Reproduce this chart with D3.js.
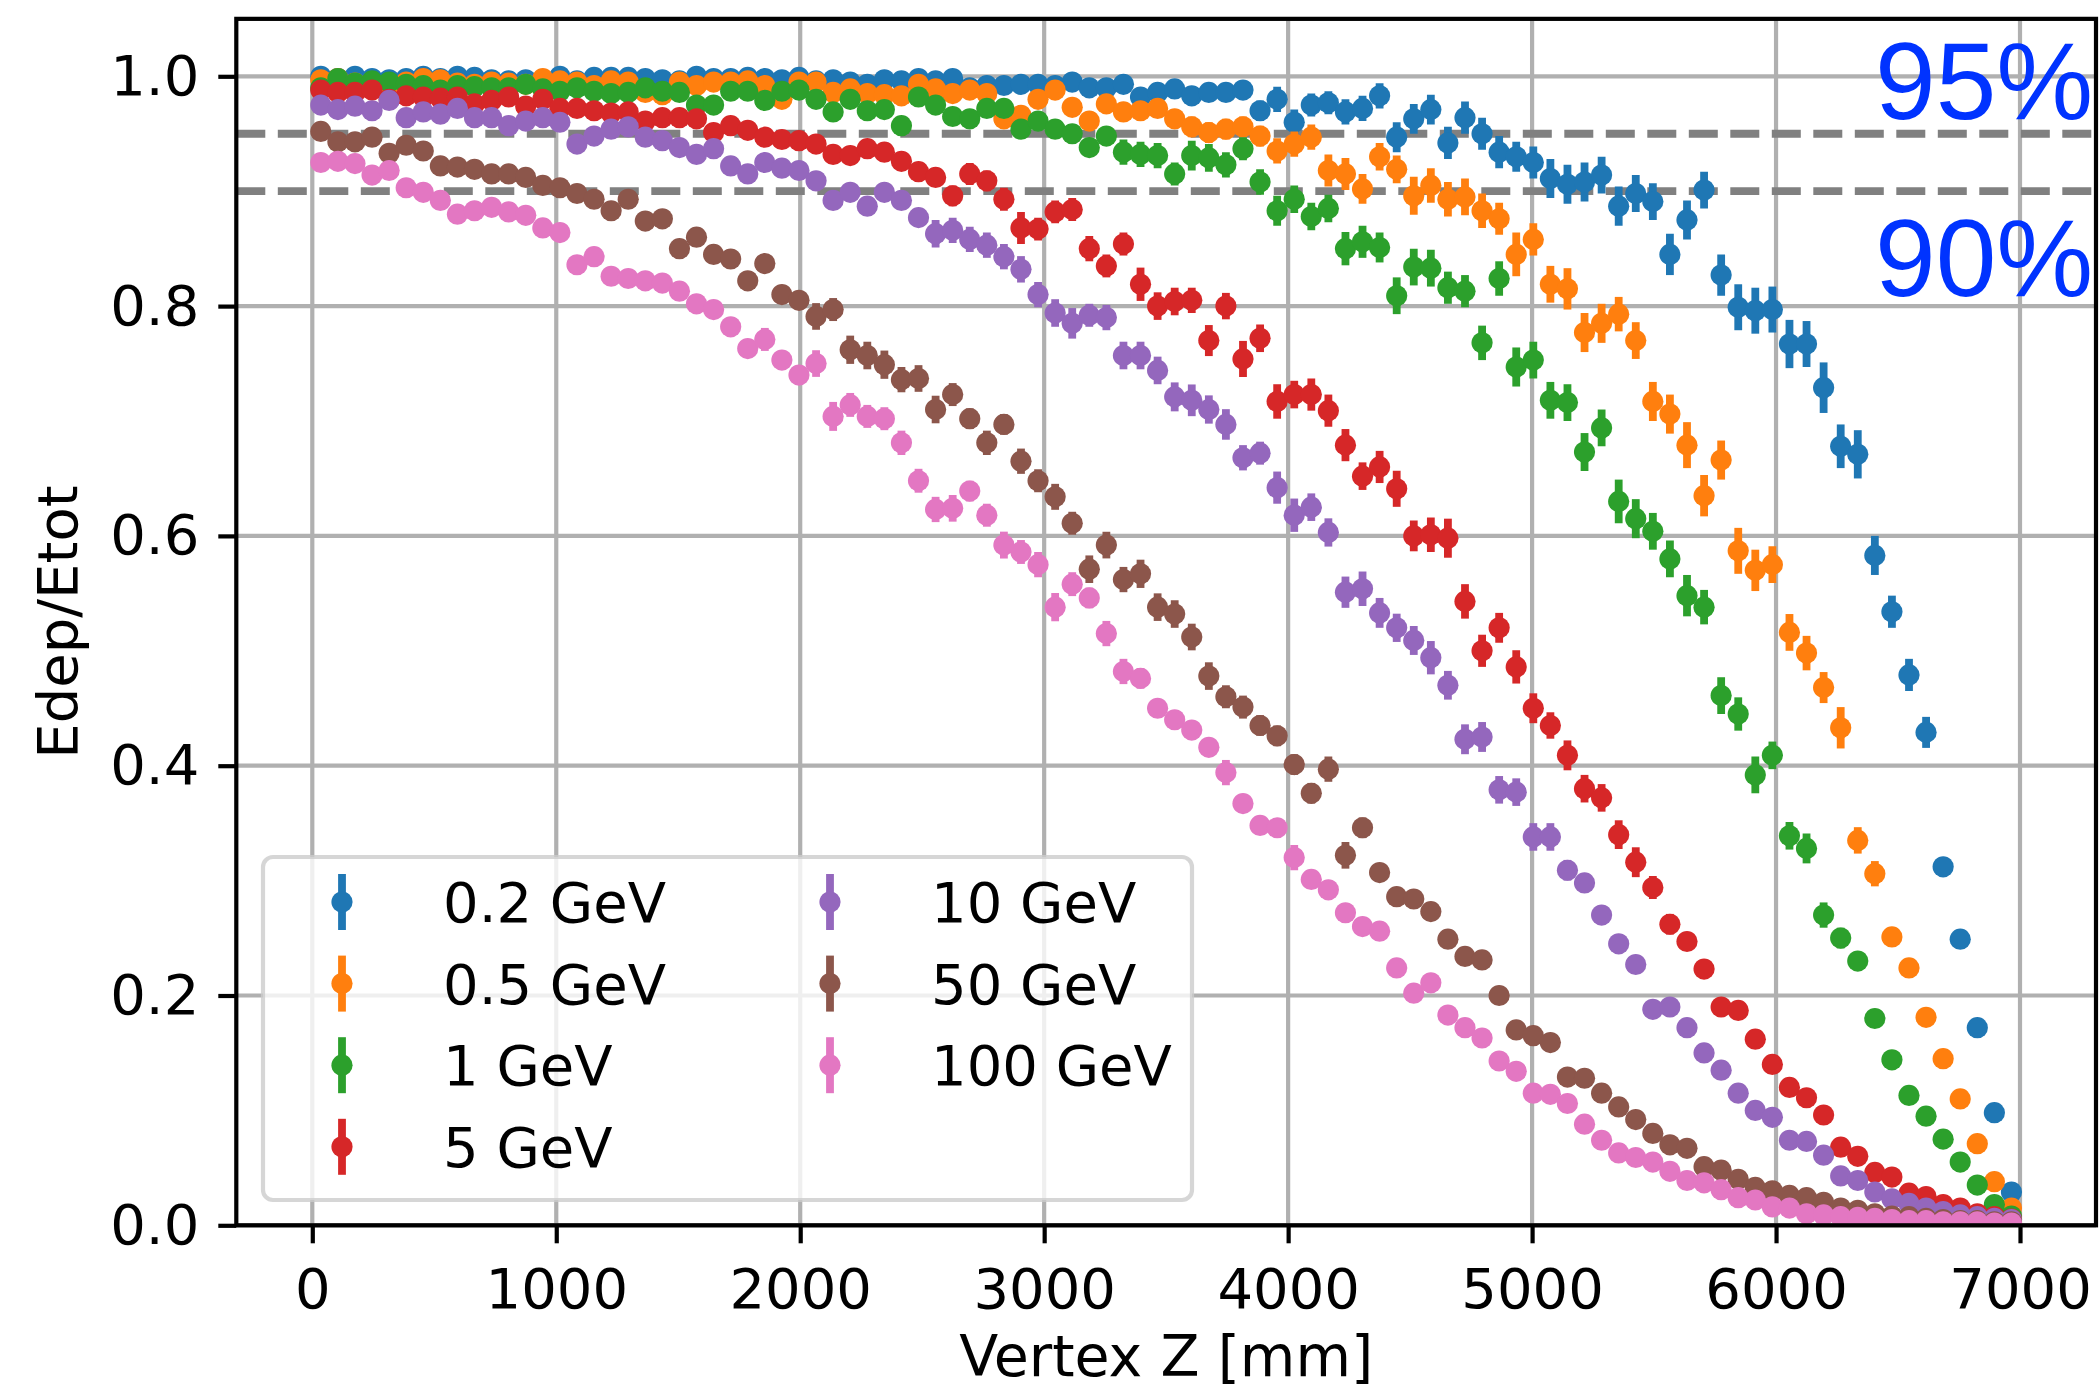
<!DOCTYPE html>
<html>
<head>
<meta charset="utf-8">
<script src="https://cdn.jsdelivr.net/npm/d3@7"></script>
<style>
  body { margin: 0; background: #fff; }
  svg text { font-family: "DejaVu Sans", sans-serif; }
</style>
</head>
<body>
<script>
// bin centres along Vertex Z [mm]
var vertexZ = [35,105,175,245,315,385,455,525,595,665,735,805,875,945,1015,1085,1155,1225,1295,1365,
  1435,1505,1575,1645,1715,1785,1855,1925,1995,2065,2135,2205,2275,2345,2415,2485,2555,2625,2695,2765,
  2835,2905,2975,3045,3115,3185,3255,3325,3395,3465,3535,3605,3675,3745,3815,3885,3955,4025,4095,4165,
  4235,4305,4375,4445,4515,4585,4655,4725,4795,4865,4935,5005,5075,5145,5215,5285,5355,5425,5495,5565,
  5635,5705,5775,5845,5915,5985,6055,6125,6195,6265,6335,6405,6475,6545,6615,6685,6755,6825,6895,6965];

var labels = ["0.2 GeV","0.5 GeV","1 GeV","5 GeV","10 GeV","50 GeV","100 GeV"];
var colors = ["#1f77b4","#ff7f0e","#2ca02c","#d62728","#9467bd","#8c564b","#e377c2"];

// Edep/Etot per energy
var e02 = [1.000,0.998,1.000,0.998,0.997,0.998,1.000,0.998,1.000,0.999,
  0.997,0.996,0.997,0.996,1.000,0.996,0.999,0.999,0.999,0.998,
  0.997,0.996,1.000,0.998,0.998,0.999,0.998,0.997,0.999,0.996,
  0.997,0.995,0.993,0.997,0.996,0.998,0.996,0.998,0.990,0.992,
  0.992,0.993,0.993,0.992,0.995,0.990,0.990,0.993,0.982,0.986,
  0.989,0.983,0.986,0.986,0.988,0.970,0.980,0.960,0.975,0.977,
  0.969,0.972,0.983,0.947,0.963,0.971,0.942,0.964,0.950,0.934,
  0.930,0.925,0.911,0.906,0.908,0.914,0.887,0.898,0.891,0.845,
  0.875,0.901,0.827,0.799,0.796,0.797,0.767,0.767,0.729,0.678,
  0.671,0.583,0.534,0.479,0.429,0.312,0.249,0.172,0.098,0.029];
var e05 = [0.997,0.998,0.994,0.995,0.993,0.995,0.998,0.997,0.994,0.993,
  0.995,0.994,0.993,0.998,0.996,0.995,0.992,0.996,0.995,0.986,
  0.984,0.995,0.992,0.995,0.995,0.996,0.992,0.980,0.995,0.995,
  0.986,0.989,0.985,0.984,0.983,0.993,0.989,0.985,0.988,0.985,
  0.963,0.966,0.980,0.988,0.973,0.961,0.976,0.969,0.970,0.972,
  0.963,0.956,0.951,0.954,0.956,0.948,0.935,0.941,0.947,0.918,
  0.915,0.902,0.930,0.919,0.896,0.905,0.893,0.895,0.883,0.876,
  0.845,0.858,0.819,0.815,0.777,0.785,0.793,0.770,0.717,0.706,
  0.679,0.635,0.666,0.587,0.570,0.575,0.516,0.498,0.468,0.433,
  0.335,0.306,0.251,0.224,0.181,0.145,0.110,0.071,0.038,0.015];
var e1 = [0.990,0.998,0.994,0.996,0.995,0.993,0.992,0.988,0.992,0.991,
  0.990,0.990,0.993,0.989,0.987,0.990,0.987,0.985,0.986,0.990,
  0.987,0.986,0.975,0.975,0.987,0.987,0.979,0.987,0.988,0.980,
  0.969,0.980,0.970,0.971,0.957,0.982,0.975,0.965,0.963,0.972,
  0.972,0.954,0.961,0.954,0.950,0.938,0.948,0.934,0.932,0.931,
  0.915,0.931,0.929,0.923,0.937,0.908,0.883,0.893,0.878,0.885,
  0.850,0.856,0.851,0.809,0.834,0.833,0.816,0.813,0.768,0.824,
  0.747,0.753,0.718,0.716,0.673,0.694,0.630,0.615,0.604,0.580,
  0.548,0.538,0.461,0.445,0.392,0.409,0.339,0.328,0.270,0.250,
  0.230,0.180,0.144,0.113,0.095,0.075,0.055,0.035,0.018,0.008];
var e5 = [0.988,0.986,0.986,0.988,0.980,0.983,0.982,0.981,0.982,0.976,
  0.979,0.982,0.974,0.980,0.972,0.972,0.970,0.968,0.969,0.961,
  0.964,0.964,0.963,0.951,0.957,0.953,0.947,0.945,0.944,0.941,
  0.932,0.931,0.937,0.934,0.926,0.917,0.912,0.896,0.915,0.909,
  0.893,0.868,0.867,0.882,0.884,0.850,0.835,0.854,0.819,0.800,
  0.804,0.805,0.770,0.800,0.754,0.772,0.717,0.723,0.723,0.709,
  0.679,0.652,0.660,0.641,0.600,0.601,0.598,0.543,0.500,0.520,
  0.486,0.450,0.435,0.409,0.380,0.372,0.340,0.316,0.294,0.262,
  0.247,0.223,0.190,0.187,0.162,0.140,0.120,0.111,0.096,0.068,
  0.060,0.046,0.042,0.028,0.025,0.018,0.015,0.010,0.0075,0.0055];
var e10 = [0.975,0.971,0.974,0.970,0.979,0.964,0.969,0.967,0.972,0.964,
  0.964,0.957,0.961,0.964,0.960,0.941,0.948,0.954,0.956,0.947,
  0.944,0.938,0.932,0.937,0.922,0.915,0.925,0.920,0.918,0.909,
  0.892,0.899,0.887,0.899,0.892,0.877,0.863,0.866,0.858,0.853,
  0.843,0.832,0.810,0.794,0.785,0.792,0.790,0.757,0.757,0.744,
  0.721,0.718,0.710,0.697,0.668,0.672,0.642,0.618,0.625,0.603,
  0.551,0.554,0.533,0.520,0.509,0.494,0.470,0.423,0.425,0.379,
  0.377,0.338,0.338,0.309,0.298,0.270,0.245,0.227,0.188,0.190,
  0.172,0.150,0.135,0.115,0.100,0.094,0.074,0.073,0.061,0.043,
  0.039,0.029,0.023,0.019,0.015,0.012,0.009,0.0075,0.006,0.005];
var e50 = [0.952,0.943,0.943,0.947,0.933,0.940,0.935,0.922,0.921,0.919,
  0.915,0.915,0.912,0.905,0.903,0.898,0.893,0.883,0.893,0.874,
  0.876,0.850,0.860,0.845,0.841,0.822,0.837,0.810,0.805,0.791,
  0.797,0.762,0.757,0.749,0.736,0.737,0.710,0.723,0.702,0.681,
  0.697,0.665,0.648,0.634,0.611,0.571,0.592,0.562,0.567,0.538,
  0.532,0.512,0.478,0.460,0.451,0.435,0.426,0.401,0.376,0.397,
  0.322,0.346,0.307,0.286,0.284,0.273,0.249,0.234,0.231,0.200,
  0.170,0.165,0.159,0.129,0.128,0.115,0.103,0.092,0.080,0.070,
  0.067,0.051,0.048,0.040,0.033,0.030,0.026,0.024,0.020,0.015,
  0.013,0.010,0.008,0.0075,0.006,0.005,0.004,0.004,0.003,0.003];
var e100 = [0.925,0.926,0.924,0.914,0.918,0.903,0.899,0.892,0.880,0.883,
  0.886,0.882,0.879,0.868,0.864,0.836,0.843,0.826,0.824,0.822,
  0.820,0.813,0.802,0.797,0.782,0.763,0.771,0.753,0.740,0.750,
  0.704,0.714,0.704,0.702,0.681,0.648,0.623,0.624,0.639,0.618,
  0.592,0.586,0.575,0.538,0.558,0.546,0.515,0.482,0.476,0.450,
  0.440,0.431,0.416,0.394,0.367,0.348,0.346,0.320,0.301,0.292,
  0.272,0.260,0.256,0.224,0.202,0.211,0.183,0.172,0.163,0.143,
  0.134,0.115,0.114,0.106,0.088,0.074,0.063,0.059,0.055,0.047,
  0.039,0.037,0.031,0.024,0.022,0.016,0.015,0.010,0.009,0.0075,
  0.007,0.006,0.005,0.004,0.004,0.003,0.003,0.003,0.002,0.002];

// error (half length) per energy
var err02 = [.004,.004,.004,.004,.004,.004,.004,.004,.004,.004,
  .004,.004,.004,.004,.004,.004,.004,.004,.004,.004,
  .004,.004,.004,.004,.004,.004,.004,.004,.004,.004,
  .005,.005,.005,.005,.005,.005,.005,.005,.005,.005,
  .005,.007,.007,.007,.007,.007,.007,.007,.007,.007,
  .007,.007,.007,.007,.007,.009,.011,.011,.010,.010,
  .011,.011,.011,.013,.013,.013,.014,.014,.014,.014,
  .013,.014,.017,.017,.017,.016,.017,.016,.016,.018,
  .017,.016,.018,.020,.020,.020,.021,.020,.022,.019,
  .021,.017,.014,.014,.0135,.008,.007,.006,.005,.003];
var err05 = [.005,.005,.005,.005,.005,.005,.005,.005,.005,.005,
  .005,.005,.005,.005,.005,.005,.005,.005,.005,.005,
  .005,.005,.005,.005,.005,.005,.005,.005,.005,.005,
  .006,.006,.006,.006,.006,.006,.006,.006,.006,.006,
  .007,.007,.007,.007,.007,.007,.007,.007,.007,.007,
  .007,.009,.009,.009,.009,.009,.011,.011,.011,.014,
  .014,.013,.012,.012,.0165,.015,.015,.016,.015,.014,
  .019,.014,.016,.018,.017,.017,.015,.016,.017,.017,
  .020,.018,.017,.020,.018,.016,.016,.015,.0135,.018,
  .0115,.011,.008,.007,.006,.005,.004,.003,.002,.002];
var err1 = [.005,.005,.005,.005,.005,.005,.005,.005,.005,.005,
  .005,.005,.005,.005,.005,.005,.005,.005,.005,.005,
  .005,.005,.005,.005,.005,.005,.005,.005,.005,.005,
  .005,.005,.005,.005,.005,.005,.005,.005,.005,.005,
  .008,.008,.008,.008,.008,.008,.008,.011,.011,.011,
  .010,.013,.012,.011,.010,.011,.013,.012,.012,.012,
  .0145,.014,.013,.016,.016,.016,.014,.014,.015,.015,
  .017,.016,.016,.016,.0165,.016,.019,.017,.016,.016,
  .018,.015,.016,.0145,.016,.012,.012,.013,.011,.009,
  .008,.007,.006,.005,.005,.004,.003,.003,.002,.002];
var err5 = [.005,.005,.005,.005,.005,.005,.005,.005,.005,.005,
  .005,.005,.005,.005,.005,.005,.005,.005,.005,.005,
  .005,.005,.005,.005,.005,.005,.005,.005,.005,.005,
  .007,.007,.007,.007,.007,.007,.007,.009,.0095,.009,
  .010,.014,.010,.010,.010,.011,.010,.010,.0145,.012,
  .012,.011,.0135,.0115,.0157,.012,.015,.012,.014,.014,
  .014,.012,.014,.0157,.0134,.015,.017,.015,.014,.013,
  .0145,.013,.0115,.013,.012,.012,.0125,.013,.010,.009,
  .008,.008,.007,.007,.006,.006,.005,.005,.004,.003,
  .003,.003,.003,.003,.003,.002,.002,.002,.002,.002];
var err10 = [.006,.006,.006,.006,.006,.006,.006,.006,.006,.006,
  .006,.006,.006,.006,.006,.006,.006,.006,.006,.006,
  .006,.006,.006,.006,.006,.006,.006,.006,.006,.006,
  .008,.008,.008,.008,.008,.008,.012,.011,.011,.011,
  .011,.0115,.011,.012,.0133,.010,.011,.012,.012,.012,
  .0126,.0138,.0123,.0133,.011,.010,.014,.0145,.012,.0123,
  .0136,.015,.013,.0123,.0126,.0145,.0125,.013,.013,.012,
  .012,.012,.012,.009,.008,.008,.007,.007,.006,.006,
  .005,.005,.005,.004,.004,.004,.003,.003,.003,.003,
  .003,.002,.002,.002,.002,.002,.002,.002,.002,.002];
var err50 = [.007,.007,.007,.007,.007,.007,.007,.007,.007,.007,
  .007,.007,.007,.007,.007,.007,.007,.007,.007,.007,
  .007,.008,.008,.008,.008,.008,.008,.008,.008,.0116,
  .010,.0123,.012,.0123,.011,.0116,.012,.010,.009,.0106,
  .009,.011,.010,.0113,.010,.012,.0116,.011,.0123,.012,
  .012,.0116,.012,.010,.010,.009,.009,.009,.009,.011,
  .0116,.009,.008,.007,.007,.007,.007,.007,.007,.007,
  .007,.005,.005,.005,.005,.005,.005,.005,.005,.005,
  .005,.003,.003,.003,.003,.003,.003,.003,.003,.003,
  .002,.002,.002,.002,.002,.002,.002,.002,.002,.002];
var err100 = [.007,.007,.007,.007,.007,.007,.007,.007,.007,.007,
  .007,.007,.007,.007,.007,.007,.007,.007,.007,.007,
  .007,.007,.007,.007,.007,.008,.010,.008,.008,.0116,
  .0126,.0104,.010,.010,.0106,.0104,.011,.0116,.009,.010,
  .0117,.0104,.011,.0123,.0104,.009,.011,.011,.009,.008,
  .008,.008,.008,.011,.008,.008,.008,.011,.007,.007,
  .007,.007,.007,.007,.007,.007,.005,.005,.005,.005,
  .005,.005,.005,.005,.005,.005,.003,.003,.003,.003,
  .003,.003,.003,.003,.003,.003,.003,.003,.003,.003,
  .002,.002,.002,.002,.002,.002,.002,.002,.002,.002];

var xTicks = [0,1000,2000,3000,4000,5000,6000,7000];
var yTicks = [0.0,0.2,0.4,0.6,0.8,1.0];
var refLines = [0.95, 0.90];
var refTexts = ["95%", "90%"];

var allVals = [e02, e05, e1, e5, e10, e50, e100];
var allErrs = [err02, err05, err1, err5, err10, err50, err100];

// layout
var W = 2100, H = 1392;
var L = 236.3, R = 2096, T = 18.85, B = 1225.3;
var fs = 56;

var x = d3.scaleLinear().domain([-311.5, 7311.5]).range([L, R]);
var y = d3.scaleLinear().domain([0, 1.05]).range([B, T]);

var svg = d3.select("body").append("svg")
  .attr("width", W).attr("height", H);
svg.append("rect").attr("width", W).attr("height", H).attr("fill", "#fff");

svg.append("clipPath").attr("id", "plotclip")
  .append("rect").attr("x", L).attr("y", T).attr("width", R - L).attr("height", B - T);

// grid
var grid = svg.append("g");
grid.selectAll(".gx").data(xTicks).enter().append("line")
  .attr("x1", d => x(d)).attr("x2", d => x(d)).attr("y1", T).attr("y2", B)
  .attr("stroke", "#b0b0b0").attr("stroke-width", 4.2);
grid.selectAll(".gy").data(yTicks).enter().append("line")
  .attr("x1", L).attr("x2", R).attr("y1", d => y(d)).attr("y2", d => y(d))
  .attr("stroke", "#b0b0b0").attr("stroke-width", 4.2);

var plot = svg.append("g").attr("clip-path", "url(#plotclip)");

// 95% and 90% reference lines
plot.selectAll(".ref").data(refLines).enter().append("line")
  .attr("x1", L).attr("x2", R).attr("y1", d => y(d)).attr("y2", d => y(d))
  .attr("stroke", "#808080").attr("stroke-width", 7.8)
  .attr("stroke-dasharray", "29,12.5");

// series: error bars then markers
allVals.forEach(function(vals, k) {
  var pts = vals.map(function(v, i) { return {z: vertexZ[i], v: v, e: allErrs[k][i]}; });
  var g = plot.append("g");
  g.selectAll("line").data(pts).enter().append("line")
    .attr("x1", d => x(d.z)).attr("x2", d => x(d.z))
    .attr("y1", d => y(d.v - d.e)).attr("y2", d => y(d.v + d.e))
    .attr("stroke", colors[k]).attr("stroke-width", 7.8);
  g.selectAll("circle").data(pts).enter().append("circle")
    .attr("cx", d => x(d.z)).attr("cy", d => y(d.v)).attr("r", 10.6)
    .attr("fill", colors[k]);
});

// percentage labels
svg.selectAll(".pct").data(refTexts).enter().append("text")
  .attr("x", x(7300)).attr("y", (d, i) => y([0.963, 0.809][i]))
  .attr("text-anchor", "end")
  .style("font-family", "'Liberation Sans', Arial, sans-serif")
  .style("font-size", "109px")
  .attr("fill", "#0033ff")
  .text(d => d);

// axes
var xAxis = svg.append("g").attr("transform", "translate(0," + B + ")")
  .call(d3.axisBottom(x).tickValues(xTicks).tickFormat(d3.format("d"))
    .tickSizeInner(18).tickSizeOuter(0).tickPadding(25));
var yAxis = svg.append("g").attr("transform", "translate(" + L + ",0)")
  .call(d3.axisLeft(y).tickValues(yTicks).tickFormat(d3.format(".1f"))
    .tickSizeInner(18).tickSizeOuter(0).tickPadding(19));
[xAxis, yAxis].forEach(function(a) {
  a.select(".domain").remove();
  a.selectAll(".tick line").attr("stroke", "#000").attr("stroke-width", 4.2);
  a.selectAll(".tick text").attr("fill", "#000")
    .style("font-family", "'DejaVu Sans', sans-serif").style("font-size", fs + "px");
});

// frame
svg.append("rect").attr("x", L).attr("y", T).attr("width", R - L).attr("height", B - T)
  .attr("fill", "none").attr("stroke", "#000").attr("stroke-width", 4.2);

// axis labels
svg.append("text").attr("x", (L + R) / 2).attr("y", 1376)
  .attr("text-anchor", "middle").style("font-size", "57px").text("Vertex Z [mm]");
svg.append("text").attr("transform", "translate(77," + (T + B) / 2 + ") rotate(-90)")
  .attr("text-anchor", "middle").style("font-size", "56px").text("Edep/Etot");

// legend
var leg = svg.append("g");
leg.append("rect").attr("x", 263).attr("y", 857).attr("width", 929).attr("height", 343)
  .attr("rx", 10).attr("fill", "#fff").attr("fill-opacity", 0.8)
  .attr("stroke", "#cccccc").attr("stroke-opacity", 0.8).attr("stroke-width", 4.2);
labels.forEach(function(lab, k) {
  var col = k < 4 ? 0 : 1, row = k < 4 ? k : k - 4;
  var mx = col === 0 ? 342 : 830, my = 902 + row * 81.6;
  leg.append("line").attr("x1", mx).attr("x2", mx).attr("y1", my - 28).attr("y2", my + 28)
    .attr("stroke", colors[k]).attr("stroke-width", 7.8);
  leg.append("circle").attr("cx", mx).attr("cy", my).attr("r", 10.6).attr("fill", colors[k]);
  leg.append("text").attr("x", mx + 101).attr("y", my + 20)
    .style("font-size", "56px").text(lab);
});
</script>
</body>
</html>
